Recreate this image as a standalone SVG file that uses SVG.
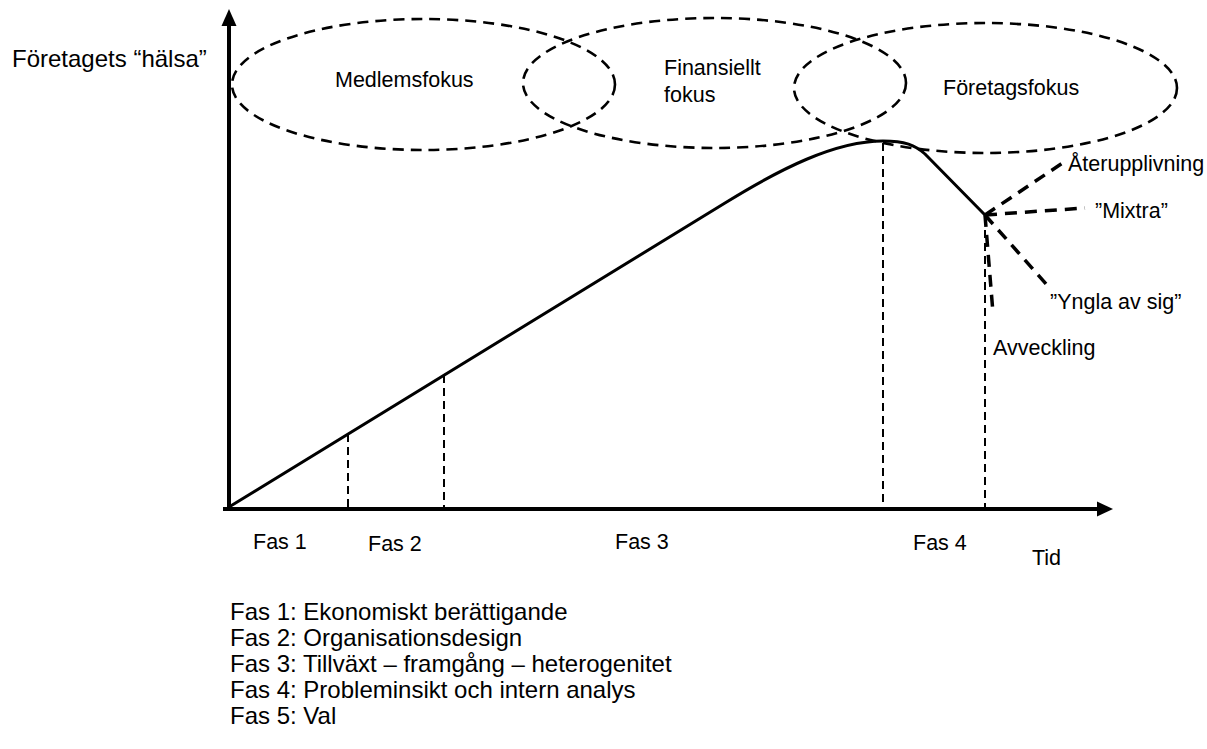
<svg xmlns="http://www.w3.org/2000/svg" width="1207" height="749" viewBox="0 0 1207 749">
<style>
text{font-family:"Liberation Sans",Arial,sans-serif;fill:#000}
.lbl{font-size:21.5px}
.leg{font-size:24px}
.ell{fill:none;stroke:#000;stroke-width:2.6;stroke-dasharray:11 7}
.vd{fill:none;stroke:#000;stroke-width:2;stroke-dasharray:8 5}
.opt{fill:none;stroke:#000;stroke-width:3.5;stroke-dasharray:12 8}
.axis{fill:none;stroke:#000;stroke-width:4}
</style>
<rect width="1207" height="749" fill="#fff"/>
<g id="focus-areas">
<g id="medlemsfokus"><ellipse class="ell" cx="423.5" cy="84.5" rx="191.5" ry="65.5"/><text class="lbl" x="335" y="87">Medlemsfokus</text></g>
<g id="finansiellt"><ellipse class="ell" cx="714.5" cy="83" rx="191.5" ry="65"/><text class="lbl" x="664" y="75">Finansiellt</text><text class="lbl" x="664" y="102">fokus</text></g>
<g id="foretagsfokus"><ellipse class="ell" cx="985.5" cy="88" rx="191.5" ry="65"/><text class="lbl" x="943" y="95">Företagsfokus</text></g>
</g>
<g id="axes">
<line class="axis" x1="229" y1="509" x2="229" y2="22"/>
<polygon points="229,9 221.5,26 236.5,26" fill="#000"/>
<line class="axis" x1="223" y1="509" x2="1100" y2="509"/>
<polygon points="1113,509 1097,501.5 1097,516.5" fill="#000"/>
<text x="12" y="67" style="font-size:24px">Företagets “hälsa”</text>
<text class="lbl" x="1032" y="565">Tid</text>
</g>
<g id="phase-lines">
<line class="vd" x1="348" y1="434" x2="348" y2="507"/>
<line class="vd" x1="444" y1="375" x2="444" y2="507"/>
<line class="vd" x1="883" y1="143" x2="883" y2="507"/>
<line class="vd" x1="985" y1="217" x2="985" y2="507"/>
</g>
<g id="health-curve">
<path d="M229,507 L725,203 C780,169 835,141 883,141 C905,141 915,145 925,154 L985,215" fill="none" stroke="#000" stroke-width="3" stroke-linejoin="round"/>
</g>
<g id="connectors">
<line class="opt" x1="985" y1="215" x2="1064" y2="162"/>
<line class="opt" x1="985" y1="215" x2="1085" y2="208"/>
<line class="opt" x1="985" y1="215" x2="1047" y2="285"/>
<line class="opt" x1="985" y1="215" x2="993" y2="313"/>
</g>
<g id="options">
<text class="lbl" x="1068" y="171">Återupplivning</text>
<text class="lbl" x="1095" y="218">”Mixtra”</text>
<text class="lbl" x="1050" y="309">”Yngla av sig”</text>
<text class="lbl" x="993" y="355">Avveckling</text>
</g>
<g id="phase-labels">
<text class="lbl" x="253" y="549">Fas 1</text>
<text class="lbl" x="368" y="551">Fas 2</text>
<text class="lbl" x="615" y="549">Fas 3</text>
<text class="lbl" x="913" y="550">Fas 4</text>
</g>
<g id="legend">
<text class="leg" x="230" y="620">Fas 1: Ekonomiskt berättigande</text>
<text class="leg" x="230" y="646">Fas 2: Organisationsdesign</text>
<text class="leg" x="230" y="672">Fas 3: Tillväxt – framgång – heterogenitet</text>
<text class="leg" x="230" y="698">Fas 4: Probleminsikt och intern analys</text>
<text class="leg" x="230" y="724">Fas 5: Val</text>
</g>
</svg>
